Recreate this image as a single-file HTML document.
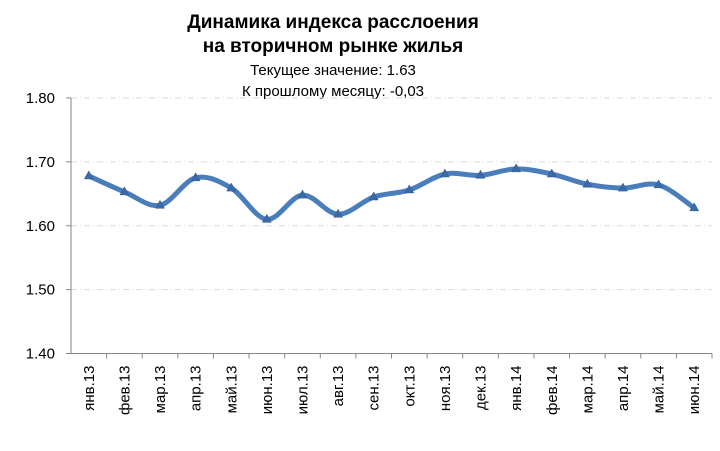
<!DOCTYPE html>
<html><head><meta charset="utf-8"><style>
body{margin:0;background:#fff;}
svg{font-family:"Liberation Sans",sans-serif;}
</style></head><body>
<svg width="720" height="446">
<text x="333" y="28" text-anchor="middle" font-size="19" font-weight="bold">Динамика индекса расслоения</text>
<text x="333" y="52" text-anchor="middle" font-size="19" font-weight="bold">на вторичном рынке жилья</text>
<text x="333" y="75" text-anchor="middle" font-size="15">Текущее значение: 1.63</text>
<text x="333" y="96" text-anchor="middle" font-size="15">К прошлому месяцу: -0,03</text>
<g id="grid"></g><g id="axes"></g><g id="series"></g>
</svg>
<script>
const categories=["янв.13","фев.13","мар.13","апр.13","май.13","июн.13","июл.13","авг.13","сен.13","окт.13","ноя.13","дек.13","янв.14","фев.14","мар.14","апр.14","май.14","июн.14"];
const values=[1.678,1.653,1.632,1.675,1.659,1.610,1.648,1.618,1.645,1.656,1.681,1.679,1.689,1.681,1.665,1.659,1.664,1.628];
const yTicks=[1.40,1.50,1.60,1.70,1.80];
const NS="http://www.w3.org/2000/svg";
const x0=71,x1=712,yMin=1.4,yMax=1.8,yB=353.5,yT=98;
const bw=(x1-x0)/categories.length;
const X=i=>x0+bw*(i+0.5);
const Y=v=>yB-(v-yMin)/(yMax-yMin)*(yB-yT);
function mk(t,a,p){const e=document.createElementNS(NS,t);for(const k in a)e.setAttribute(k,a[k]);p.appendChild(e);return e;}
const grid=document.getElementById('grid'),axes=document.getElementById('axes'),ser=document.getElementById('series');
yTicks.forEach(v=>{
 if(v>yMin){const l=mk('line',{x1:x0,x2:x1,y1:Y(v),y2:Y(v),stroke:'#d9d9d9','stroke-dasharray':'6 3 1 3'},grid);
 
 }
 mk('line',{x1:x0-5,x2:x0,y1:Y(v),y2:Y(v),stroke:'#868686'},axes);
 const t=mk('text',{x:55,y:Y(v)+5,'text-anchor':'end','font-size':15},axes);t.textContent=v.toFixed(2);
 
 
});
mk('line',{x1:x0,x2:x0,y1:yT,y2:yB,stroke:'#868686'},axes);
mk('line',{x1:x0,x2:x1,y1:yB,y2:yB,stroke:'#868686'},axes);
categories.forEach((c,i)=>{
 mk('line',{x1:x0+bw*(i+1),x2:x0+bw*(i+1),y1:yB,y2:yB+5,stroke:'#868686'},axes);
 const t=mk('text',{x:0,y:0,'text-anchor':'end','font-size':15,transform:`translate(${X(i)+5},${yB+12}) rotate(-90)`},axes);
 t.textContent=c;
 
 
});
const pts=values.map((v,i)=>[X(i),Y(v)]);
let d=`M${pts[0][0]},${pts[0][1]}`;
for(let i=0;i<pts.length-1;i++){
 const p0=pts[i-1]||pts[i],p1=pts[i],p2=pts[i+1],p3=pts[i+2]||p2;
 d+=` C${p1[0]+(p2[0]-p0[0])/6},${p1[1]+(p2[1]-p0[1])/6} ${p2[0]-(p3[0]-p1[0])/6},${p2[1]-(p3[1]-p1[1])/6} ${p2[0]},${p2[1]}`;
}
const line=mk('path',{d:d,fill:'none',stroke:'#4a7ebb','stroke-width':5,'stroke-linecap':'round'},ser);


pts.forEach(p=>{
 const m=mk('path',{d:`M${p[0]},${p[1]-5} L${p[0]+4.5},${p[1]+3} L${p[0]-4.5},${p[1]+3} Z`,fill:'#3a6aa8',stroke:'#2c5590','stroke-width':0.5},ser);
 
 
});
</script>
</body></html>
